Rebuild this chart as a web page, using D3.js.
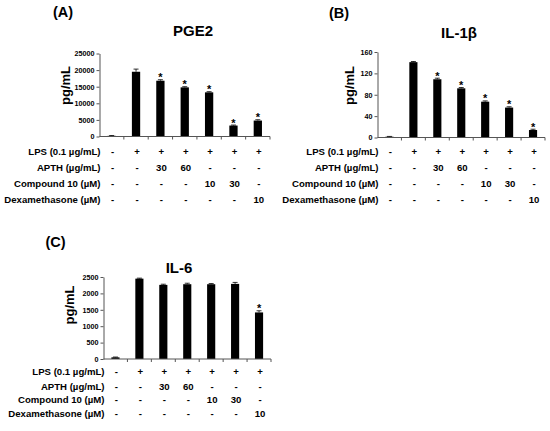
<!DOCTYPE html>
<html>
<head>
<meta charset="utf-8">
<script src="https://cdn.jsdelivr.net/npm/d3@7"></script>
<style>
  body { margin: 0; background: #fff; }
  svg { display: block; font-family: "Liberation Sans", Arial, sans-serif; }
</style>
</head>
<body>
<svg id="fig" width="550" height="431"></svg>
<script>
// groups along the x axis
const groups = ['ctrl', 'lps', 'apth30', 'apth60', 'cpd10', 'cpd30', 'dex10']

// treatment table under each chart
const rowLabels = ['LPS (0.1 \u00b5g/mL)', 'APTH (\u00b5g/mL)', 'Compound 10 (\u00b5M)', 'Dexamethasone (\u00b5M)']
const lpsRow = ['-', '+', '+', '+', '+', '+', '+']
const apthRow = ['-', '-', '30', '60', '-', '-', '-']
const cpdRow = ['-', '-', '-', '-', '10', '30', '-']
const dexRow = ['-', '-', '-', '-', '-', '-', '10']

// (A) PGE2
const pgeValues = [200, 19500, 16800, 14800, 13300, 3300, 4800]
const pgeErrors = [100, 800, 300, 200, 200, 150, 250]
const pgeStars = [false, false, true, true, true, true, true]
const pgeTicks = [0, 5000, 10000, 15000, 20000, 25000]

// (B) IL-1beta
const il1Values = [1.5, 141, 109, 92, 67, 56, 14]
const il1Errors = [0.5, 1.2, 2, 1.5, 1.5, 1.5, 1.5]
const il1Stars = [false, false, true, true, true, true, true]
const il1Ticks = [0, 40, 80, 120, 160]

// (C) IL-6
const il6Values = [50, 2450, 2260, 2280, 2280, 2290, 1420]
const il6Errors = [10, 15, 20, 30, 20, 45, 50]
const il6Stars = [false, false, false, false, false, false, true]
const il6Ticks = [0, 500, 1000, 1500, 2000, 2500]

const rows = [lpsRow, apthRow, cpdRow, dexRow]
const svg = d3.select('#fig')

function drawPanel(p) {

    let g = svg.append('g')

    let x = d3.scaleBand().domain(groups).range([p.left, p.right]).paddingInner(0.66).paddingOuter(0.33)
    let y = d3.scaleLinear().domain([0, p.ticks[p.ticks.length - 1]]).range([p.bottom, p.top])

    // PANEL LETTER
    g.append('text')
        .attr('x', p.letterX).attr('y', p.letterY)
        .attr('font-size', 14.5).attr('font-weight', 'bold')
        .attr('text-anchor', 'middle')
        .text(p.letter)

    // TITLE
    g.append('text')
        .attr('x', p.titleX).attr('y', p.titleY)
        .attr('font-size', 15).attr('font-weight', 'bold')
        .attr('text-anchor', 'middle')
        .text(p.title)

    // Y AXIS
    let yAxis = g.append('g')
        .attr('transform', `translate(${p.left},0)`)
        .call(d3.axisLeft(y).tickValues(p.ticks).tickFormat(d3.format('d')).tickSize(3).tickSizeOuter(0).tickPadding(2))
    yAxis.selectAll('path, line').attr('stroke', '#555')
    yAxis.selectAll('text').attr('font-size', 7.2).attr('font-weight', 'bold').attr('fill', '#000')
        .attr('font-family', '"Liberation Sans", Arial, sans-serif')

    // Y AXIS LABEL
    g.append('text')
        .attr('transform', `translate(${p.ylabX},${p.ylabY}) rotate(-90)`)
        .attr('font-size', 13).attr('font-weight', 'bold')
        .attr('text-anchor', 'middle')
        .text('pg/mL')

    // BARS
    g.selectAll('.bar')
        .data(groups)
        .enter()
        .append('rect')
        .attr('x', d => x(d))
        .attr('width', x.bandwidth())
        .attr('y', (d, i) => y(p.values[i]))
        .attr('height', (d, i) => p.bottom - y(p.values[i]))
        .attr('fill', '#000')

    // ERROR BARS
    let cx = d => x(d) + x.bandwidth() / 2
    g.selectAll('.err')
        .data(groups)
        .enter()
        .append('path')
        .attr('d', (d, i) => {
            let y0 = y(p.values[i]), y1 = y(p.values[i] + p.errors[i])
            return `M${cx(d)},${y0}V${y1}M${cx(d) - 2.5},${y1}H${cx(d) + 2.5}`
        })
        .attr('stroke', '#000').attr('stroke-width', 0.8).attr('fill', 'none')

    // ASTERISKS
    g.selectAll('.star')
        .data(groups.filter((d, i) => p.stars[i]))
        .enter()
        .append('text')
        .attr('x', d => cx(d))
        .attr('y', d => y(p.values[groups.indexOf(d)] + p.errors[groups.indexOf(d)]) + 1.5)
        .attr('font-size', 11).attr('font-weight', 'bold')
        .attr('text-anchor', 'middle')
        .text('*')

    // X AXIS (ticks between groups)
    let bounds = groups.map(d => x(d) - x.step() * 0.33)
    bounds.push(p.right)
    g.append('line')
        .attr('x1', p.left).attr('x2', p.right)
        .attr('y1', p.bottom).attr('y2', p.bottom)
        .attr('stroke', '#555')
    g.selectAll('.xtick')
        .data(bounds.slice(1))
        .enter()
        .append('line')
        .attr('x1', d => d).attr('x2', d => d)
        .attr('y1', p.bottom).attr('y2', p.bottom + 3)
        .attr('stroke', '#555')

    // TREATMENT TABLE
    rows.forEach(function(row, r) {
        let ry = p.rowY[r] + 3.5
        g.append('text')
            .attr('x', p.left + 1).attr('y', ry)
            .attr('font-size', 9.6).attr('font-weight', 'bold')
            .attr('text-anchor', 'end')
            .text(rowLabels[r])
        g.selectAll('.cell' + r)
            .data(groups)
            .enter()
            .append('text')
            .attr('x', d => cx(d) + 1)
            .attr('y', ry)
            .attr('font-size', 9.6).attr('font-weight', 'bold')
            .attr('text-anchor', 'middle')
            .text((d, i) => row[i])
    })
}

drawPanel({
    letter: '(A)', letterX: 63, letterY: 17,
    title: 'PGE2', titleX: 193, titleY: 36,
    left: 99.5, right: 270, top: 53.5, bottom: 136.5,
    ylabX: 70, ylabY: 85.5,
    values: pgeValues, errors: pgeErrors, stars: pgeStars, ticks: pgeTicks,
    rowY: [151, 167, 183, 199]
})

drawPanel({
    letter: '(B)', letterX: 339, letterY: 18,
    title: 'IL-1\u03b2', titleX: 459, titleY: 38,
    left: 377.5, right: 545, top: 52, bottom: 137.5,
    ylabX: 354, ylabY: 85.5,
    values: il1Values, errors: il1Errors, stars: il1Stars, ticks: il1Ticks,
    rowY: [151, 167, 183, 199]
})

drawPanel({
    letter: '(C)', letterX: 55.5, letterY: 247,
    title: 'IL-6', titleX: 179, titleY: 273,
    left: 103.5, right: 271, top: 277, bottom: 359,
    ylabX: 74, ylabY: 305,
    values: il6Values, errors: il6Errors, stars: il6Stars, ticks: il6Ticks,
    rowY: [371, 386, 399.5, 413]
})
</script>
</body>
</html>
